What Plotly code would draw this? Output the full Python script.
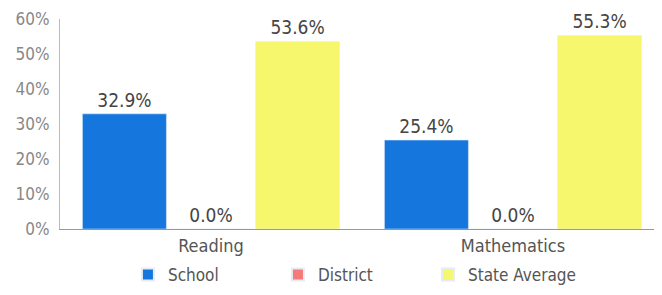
import plotly.graph_objects as go

categories = ["Reading", "Mathematics"]
school = [32.9, 25.4]
district = [0.0, 0.0]
state_avg = [53.6, 55.3]
y_ticks = [0, 10, 20, 30, 40, 50, 60]
y_tick_labels = ["0%", "10%", "20%", "30%", "40%", "50%", "60%"]

FONT = "DejaVu Sans Condensed"

fig = go.Figure()
for name, vals, color in [("School", school, "#1577DE"),
                          ("District", district, "#F77A7A"),
                          ("State Average", state_avg, "#F7F76E")]:
    fig.add_trace(go.Bar(
        name=name, x=categories, y=vals, marker_color=color,
        texttemplate="%{y:.1f}%", textposition="outside",
        textfont=dict(family=FONT, size=19, color="#454545"),
        cliponaxis=False,
    ))

fig.update_layout(
    width=662, height=295,
    margin=dict(l=52, r=6, t=11, b=74, autoexpand=False),
    paper_bgcolor="white", plot_bgcolor="white",
    barmode="group", bargap=0.14, bargroupgap=0.03,
    font=dict(family=FONT, size=18, color="#555555"),
    showlegend=True,
    legend=dict(orientation="h", x=0.485, xanchor="center",
                yref="container", y=0.095, yanchor="middle",
                font=dict(family=FONT, size=17, color="#555555"),
                entrywidth=105, itemsizing="constant"),
    xaxis=dict(showline=True, linecolor="#999999", linewidth=1, ticks="",
               automargin=False, ticklabeloverflow="allow",
               tickfont=dict(family=FONT, size=18, color="#555555"), showgrid=False),
    yaxis=dict(range=[0, 60], tickvals=y_ticks, ticktext=y_tick_labels,
               showline=True, linecolor="#bbbbbb", linewidth=1, showgrid=False,
               zeroline=False, ticks="", ticklabelstandoff=6, automargin=False,
               ticklabeloverflow="allow",
               tickfont=dict(family=FONT, size=17, color="#888888")),
)

fig.write_html("out.html")
